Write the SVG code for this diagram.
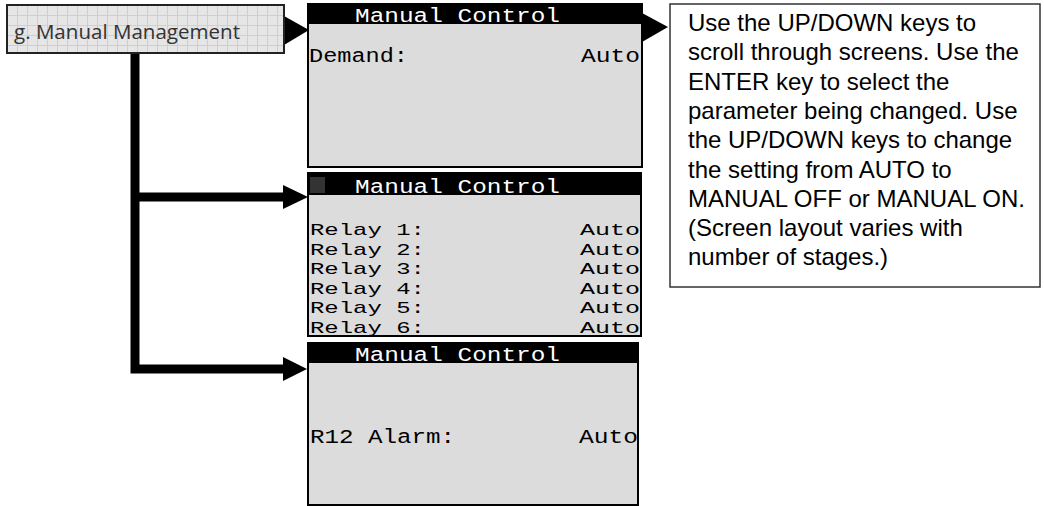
<svg xmlns="http://www.w3.org/2000/svg" width="1044" height="506" viewBox="0 0 1044 506">
  <style>
    .screen { fill: #dcdcdc; stroke: #000; stroke-width: 2; }
    .bar { fill: #000; }
    .lcd { font-family: "Liberation Mono", "DejaVu Sans Mono", monospace; font-size: 20px; fill: #000; }
    .lcds { font-family: "Liberation Mono", "DejaVu Sans Mono", monospace; font-size: 17px; fill: #000; }
    .lcdt { font-family: "Liberation Mono", "DejaVu Sans Mono", monospace; font-size: 20px; fill: #fff; }
    .conn { fill: none; stroke: #000; stroke-width: 9; stroke-linejoin: miter; }
    .head { fill: #000; }
    .note { fill: #fff; stroke: #333; stroke-width: 1.5; }
    .notetext { font-family: "Liberation Sans", Arial, sans-serif; font-size: 24px; fill: #000; }
  </style>
  <defs>
    <pattern id="grid" width="10" height="10" patternUnits="userSpaceOnUse" x="7" y="5">
      <rect width="10" height="10" fill="#e6e6e6"/>
      <path d="M0 0.5 H10 M0.5 0 V10" stroke="#cfcfcf" stroke-width="1" fill="none"/>
    </pattern>
    <clipPath id="clip2"><rect x="308" y="173" width="333" height="163"/></clipPath>
  </defs>
  <rect width="1044" height="506" fill="#fff"/>

  <g id="connectors">
    <path class="conn" d="M135 54 V369 H284"/>
    <path class="conn" d="M135 197 H284"/>
    <polygon class="head" points="283,185 308,197 283,209"/>
    <polygon class="head" points="283,357 307,369 283,381"/>
    <polygon class="head" points="284,16 309,30 284,45"/>
    <polygon class="head" points="642,13 668,27 642,42"/>
  </g>

  <g id="menu-item">
    <rect x="7" y="5" width="277" height="48" fill="url(#grid)" stroke="#222" stroke-width="2"/>
    <text x="14" y="39" font-family="'Open Sans', 'Noto Sans', sans-serif" font-size="20" fill="#333" textLength="226" lengthAdjust="spacingAndGlyphs">g. Manual Management</text>
  </g>

  <g id="screen-demand">
    <rect class="screen" x="308" y="4" width="334" height="163"/>
    <rect class="bar" x="308" y="4" width="334" height="20"/>
    <text class="lcdt" x="355" y="22" textLength="205" lengthAdjust="spacingAndGlyphs">Manual Control</text>
    <text class="lcd" x="309" y="62" textLength="99" lengthAdjust="spacingAndGlyphs">Demand:</text>
    <text class="lcd" x="581" y="62" textLength="59" lengthAdjust="spacingAndGlyphs">Auto</text>
  </g>

  <g id="screen-relays">
    <rect class="screen" x="308" y="173" width="333" height="163"/>
    <g clip-path="url(#clip2)">
      <rect class="bar" x="308" y="173" width="333" height="22"/>
      <rect x="310" y="177" width="15" height="16" fill="#333"/>
      <text class="lcdt" x="355" y="193" textLength="205" lengthAdjust="spacingAndGlyphs">Manual Control</text>
      <text class="lcds" x="310" y="235" textLength="115" lengthAdjust="spacingAndGlyphs">Relay 1:</text>
      <text class="lcds" x="580" y="235" textLength="60" lengthAdjust="spacingAndGlyphs">Auto</text>
      <text class="lcds" x="310" y="254.6" textLength="115" lengthAdjust="spacingAndGlyphs">Relay 2:</text>
      <text class="lcds" x="580" y="254.6" textLength="60" lengthAdjust="spacingAndGlyphs">Auto</text>
      <text class="lcds" x="310" y="274.2" textLength="115" lengthAdjust="spacingAndGlyphs">Relay 3:</text>
      <text class="lcds" x="580" y="274.2" textLength="60" lengthAdjust="spacingAndGlyphs">Auto</text>
      <text class="lcds" x="310" y="293.8" textLength="115" lengthAdjust="spacingAndGlyphs">Relay 4:</text>
      <text class="lcds" x="580" y="293.8" textLength="60" lengthAdjust="spacingAndGlyphs">Auto</text>
      <text class="lcds" x="310" y="313.4" textLength="115" lengthAdjust="spacingAndGlyphs">Relay 5:</text>
      <text class="lcds" x="580" y="313.4" textLength="60" lengthAdjust="spacingAndGlyphs">Auto</text>
      <text class="lcds" x="310" y="333" textLength="115" lengthAdjust="spacingAndGlyphs">Relay 6:</text>
      <text class="lcds" x="580" y="333" textLength="60" lengthAdjust="spacingAndGlyphs">Auto</text>
    </g>
    <rect x="308" y="173" width="333" height="163" fill="none" stroke="#000" stroke-width="2"/>
  </g>

  <g id="screen-alarm">
    <rect class="screen" x="308" y="343" width="330" height="162"/>
    <rect class="bar" x="308" y="343" width="330" height="20"/>
    <text class="lcdt" x="355" y="361" textLength="205" lengthAdjust="spacingAndGlyphs">Manual Control</text>
    <text class="lcd" x="310" y="443" textLength="145" lengthAdjust="spacingAndGlyphs">R12 Alarm:</text>
    <text class="lcd" x="579" y="443" textLength="59" lengthAdjust="spacingAndGlyphs">Auto</text>
  </g>

  <g id="instructions">
    <rect class="note" x="670" y="4" width="370" height="283"/>
    <text class="notetext">
      <tspan x="688" y="31">Use the UP/DOWN keys to</tspan>
      <tspan x="688" y="60.3">scroll through screens. Use the</tspan>
      <tspan x="688" y="89.6">ENTER key to select the</tspan>
      <tspan x="688" y="118.9">parameter being changed. Use</tspan>
      <tspan x="688" y="148.2">the UP/DOWN keys to change</tspan>
      <tspan x="688" y="177.5">the setting from AUTO to</tspan>
      <tspan x="688" y="206.8">MANUAL OFF or MANUAL ON.</tspan>
      <tspan x="688" y="236.1">(Screen layout varies with</tspan>
      <tspan x="688" y="265.4">number of stages.)</tspan>
    </text>
  </g>
</svg>
